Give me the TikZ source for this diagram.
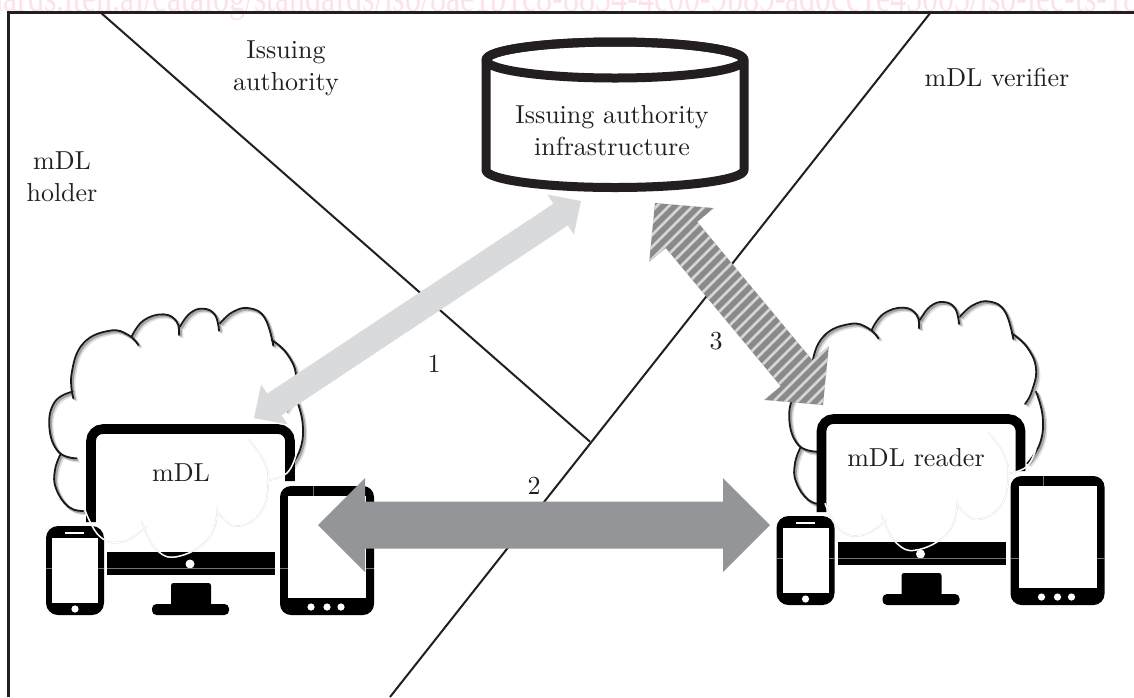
\documentclass[tikz,border=0pt]{standalone}
\usepackage{fontspec}
\usetikzlibrary{calc}
\newfontfamily\wmfont{Liberation Serif}
\definecolor{ink}{HTML}{231F20}
\definecolor{wmpink}{HTML}{FBE3E9}
\definecolor{arrowL}{HTML}{D9DADB}
\definecolor{arrowD}{HTML}{939598}
\definecolor{arrowS}{HTML}{8A8A8A}
\tikzset{
  lab/.style={scale=2.6,inner sep=0pt,text=ink,align=center,font=\fontsize{10}{12.3}\selectfont},
  rule/.style={draw=ink,line width=2pt},
  framerule/.style={draw=ink,line width=3pt},
  cyl/.style={draw=ink,line width=9pt,line join=round},
  arrowlight/.style={fill=arrowL},
  arrowdark/.style={fill=arrowD},
  stripestyle/.style={draw=black!16,line width=2.6pt},
  arrowstriped/.style={fill=arrowS,path picture={
    \foreach \d in {-240,-228,...,240}
      \draw[stripestyle] ($(a3m)+(\d-170,170)$) -- ($(a3m)+(\d+170,-170)$);
  }},
  lobe/.style={draw=black!90,line width=1.8pt,line cap=round},
  lobeshadowA/.style={draw=black!35,line width=2.4pt,xshift=1.6pt,yshift=-1.6pt},
  lobeshadowB/.style={draw=black!12,line width=2.4pt,xshift=3pt,yshift=-3pt},
  faint/.style={draw=black!16,line width=.25pt,double=white,double distance=1pt},
  hair/.style={draw=black!55,line width=.4pt},
}
% block arrow between two named tips: tipA tipB halfshaft halfhead headlength style
\newcommand\blockarrow[6]{%
  \path ($(#1)!#5pt!(#2)$) coordinate (hA) ($(#2)!#5pt!(#1)$) coordinate (hB);
  \path[#6] (#1)
    -- ($(hA)!#4pt!90:(#2)$) -- ($(hA)!#3pt!90:(#2)$)
    -- ($(hB)!#3pt!-90:(#1)$) -- ($(hB)!#4pt!-90:(#1)$)
    -- (#2)
    -- ($(hB)!#4pt!90:(#1)$) -- ($(hB)!#3pt!90:(#1)$)
    -- ($(hA)!#3pt!-90:(#2)$) -- ($(hA)!#4pt!-90:(#2)$)
    -- cycle;
}
\newcommand\outerlobes[1]{%
  \draw[#1] plot[smooth,tension=.75] coordinates {(250,693) (205,680) (168,625) (165,570) (182,522)}
    plot[smooth,tension=.75] coordinates {(230,535) (175,515) (148,440) (165,365) (218,335)}
    plot[smooth,tension=.75] coordinates {(220,355) (215,280) (250,190) (330,152) (385,165) (415,195)}
    plot[smooth,tension=.75] coordinates {(395,170) (430,122) (490,103) (530,125) (537,165)}
    plot[smooth,tension=.75] coordinates {(540,140) (570,100) (610,86) (645,105) (657,152)}
    plot[smooth,tension=.75] coordinates {(660,130) (700,95) (750,85) (795,115) (820,197)}
    plot[smooth,tension=.75] coordinates {(815,180) (860,220) (888,285) (875,355) (855,392)}
    plot[smooth,tension=.75] coordinates {(888,355) (908,430) (900,510) (862,570)};
}
\newcommand\innerlobes{%
  \draw[faint] plot[smooth,tension=.75] coordinates {(745,478) (790,540) (805,610) (780,700) (705,738) (650,690)}
    plot[smooth,tension=.75] coordinates {(652,680) (630,770) (540,828) (470,810) (425,725)}
    plot[smooth,tension=.75] coordinates {(440,740) (370,785) (300,770) (255,690)}
    plot[smooth,tension=.75] coordinates {(800,602) (860,580) (888,525)};
}
\newcommand\cloudgroup[2]{%
  \begin{scope}[shift={(#1,#2)},x=.33333pt,y=-.33333pt]
    \outerlobes{lobeshadowB}
    \outerlobes{lobeshadowA}
    \outerlobes{lobe}
  \end{scope}
}
\newcommand\cloudinner[2]{%
  \begin{scope}[shift={(#1,#2)},x=.33333pt,y=-.33333pt]
    \innerlobes
  \end{scope}
}
\newcommand\devices[2]{%
  \begin{scope}[shift={(#1,#2)}]
    % monitor frame
    \draw[black,line width=9.6pt,rounded corners=12pt] (91,522) -- (91,429) -- (290,429) -- (290,481);
    % monitor bar and stand
    \fill[black] (107,552) rectangle (275,575);
    \fill[white] (190,564) circle (4.5);
    \fill[black,rounded corners=2.5pt] (171,606) -- (171,583) -- (211,583) -- (211,606) -- cycle;
    \fill[black,rounded corners=4.5pt] (152,604) rectangle (229,615);
    % phone
    \fill[black,rounded corners=12pt] (46,526) rectangle (104,615);
    \fill[white] (52,538) rectangle (98,603);
    \fill[white] (65,532.3) rectangle (84,534);
    \fill[white] (75,609) circle (3.6);
    % tablet
    \fill[black,rounded corners=11pt] (280,486) rectangle (374,615);
    \fill[white] (288,496) rectangle (366,598);
    \foreach \q in {311,327,341} \fill[white] (\q,607) circle (3.6);
    % hairline seams on the black parts
    \draw[hair] (46,568) -- (52,568);
    \draw[hair] (98,568) -- (104,568);
    \draw[hair] (107,568) -- (275,568);
    \draw[hair] (280,568) -- (288,568);
    \draw[hair] (366,568) -- (374,568);
    \draw[hair] (313,486) -- (313,496);
  \end{scope}
}
\begin{document}
\begin{tikzpicture}[x=1pt,y=-1pt]
\useasboundingbox (0,0) rectangle (1134,697);
\fill[white] (0,0) rectangle (1134,697);
% watermark at the top edge, clipped by the page
\begin{scope}
  \clip (0,0) rectangle (1134,697);
  \node[anchor=base west,inner sep=0pt,text=wmpink,xscale=3.2,yscale=4.2,font=\wmfont\fontsize{10}{12}\selectfont] (watermark) at (-13,11) {dards.iteh.ai/catalog/standards/iso/8ae1b1c8-8834-4c00-9b89-ad0cc1e45005/iso-iec-ts-18};
\end{scope}
% frame and boundary lines
\coordinate (fa) at (8,697); \coordinate (fb) at (8,12); \coordinate (fc) at (1134,12);
\draw[framerule] (fa) -- (fb) -- (fc);
\coordinate (l1a) at (100,12); \coordinate (l1b) at (590,441.7);
\coordinate (l2a) at (931,12); \coordinate (l2b) at (390,697);
\draw[rule] (l1a) -- (l1b);
\draw[rule] (l2a) -- (l2b);
% clouds
\cloudgroup{0}{280}
\cloudgroup{740}{273.3}
% devices
\devices{0}{0}
\devices{730.5}{-10}
\cloudinner{0}{280}
\cloudinner{740}{273.3}
% cylinder
\filldraw[cyl,fill=white] (486,60) -- (486,170) arc[start angle=180,end angle=0,x radius=129,y radius=17.5] -- (744,60) arc[start angle=0,end angle=-180,x radius=129,y radius=18] -- cycle;
\draw[cyl] (615,60) ellipse [x radius=129,y radius=18];
% block arrows
\coordinate (a1a) at (581,201); \coordinate (a1b) at (254,418);
\blockarrow{a1a}{a1b}{13}{24}{24.5}{arrowlight}
\coordinate (a2a) at (318,525); \coordinate (a2b) at (770,525);
\blockarrow{a2a}{a2b}{23.5}{47}{47}{arrowdark}
\coordinate (a3a) at (655,203); \coordinate (a3b) at (823,405);
\coordinate (a3m) at ($(a3a)!.5!(a3b)$);
\blockarrow{a3a}{a3b}{20.5}{42}{41.5}{arrowstriped}
% labels
\node[lab] (tIA) at (286,68) {Issuing\\authority};
\node[lab] (tHolder) at (62,177) {mDL\\holder};
\node[lab] (tVerifier) at (997,77) {mDL verifier};
\node[lab] (tInfra) at (612,131) {Issuing authority\\infrastructure};
\node[lab] (tmDL) at (181,473) {mDL};
\node[lab] (tReader) at (916,458) {mDL reader};
\node[lab] (n1) at (434,364) {1};
\node[lab] (n2) at (534,486) {2};
\node[lab] (n3) at (716,341) {3};
\end{tikzpicture}
\end{document}
